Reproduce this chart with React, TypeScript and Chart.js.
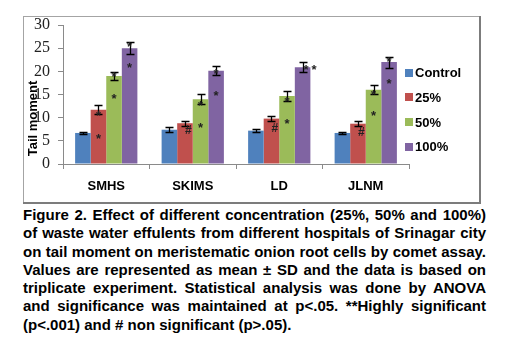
import { useEffect, useRef } from "react";
import { Chart, registerables } from "chart.js";

Chart.register(...registerables);

const categories = ["SMHS", "SKIMS", "LD", "JLNM"];
const seriesNames = ["Control", "25%", "50%", "100%"];
const controlValues = [6.7, 7.4, 7.2, 6.7];
const conc25Values = [11.7, 8.8, 9.8, 8.7];
const conc50Values = [19.0, 14.0, 14.7, 16.0];
const conc100Values = [25.0, 20.1, 20.9, 22.0];
const controlSD = [0.3, 0.5, 0.4, 0.3];
const conc25SD = [1.0, 0.5, 0.55, 0.5];
const conc50SD = [0.9, 1.1, 1.0, 0.95];
const conc100SD = [1.3, 0.95, 1.1, 1.2];
const yTicks = [0, 5, 10, 15, 20, 25, 30];
const yTitle = "Tail moment";
// [series index, category index, mark, value]
const significanceMarks: [number, number, string, number][] = [
  [1, 0, "*", 10.9], [1, 0, "*", 6.0],
  [1, 1, "#", 7.3], [1, 2, "#", 7.8], [1, 3, "#", 7.0],
  [2, 0, "*", 19.4], [2, 0, "*", 14.7],
  [2, 1, "*", 13.1], [2, 1, "*", 8.4],
  [2, 2, "*", 14.1], [2, 2, "*", 9.3],
  [2, 3, "*", 15.5], [2, 3, "*", 10.9],
  [3, 0, "*", 25.9], [3, 0, "*", 21.3],
  [3, 1, "*", 20.1], [3, 1, "*", 15.3],
  [3, 2, "**", 21.0],
  [3, 3, "*", 22.7], [3, 3, "*", 18.0],
];
const captionLines = [
  "Figure 2. Effect of different concentration (25%, 50% and 100%)",
  "of waste water effulents from different hospitals of Srinagar city",
  "on tail moment on meristematic onion root cells by comet assay.",
  "Values are represented as mean \u00b1 SD and the data is based on",
  "triplicate experiment. Statistical analysis was done by ANOVA",
  "and significance was maintained at p<.05. **Highly significant",
  "(p<.001) and # non significant (p>.05).",
];

const seriesValues = [controlValues, conc25Values, conc50Values, conc100Values];
const seriesSD = [controlSD, conc25SD, conc50SD, conc100SD];
const colors = ["#4F81BD", "#C0504D", "#9BBB59", "#8064A2"];

const SANS = '"Liberation Sans", Arial, sans-serif';
const CW = 458;
const CH = 188;

const extrasPlugin = {
  id: "extras",
  beforeDraw(chart: any) {
    const ctx = chart.ctx as CanvasRenderingContext2D;
    ctx.save();
    ctx.fillStyle = "#fff";
    ctx.fillRect(0, 0, CW, CH);
    ctx.restore();
  },
  afterDatasetsDraw(chart: any) {
    const ctx = chart.ctx as CanvasRenderingContext2D;
    const y = chart.scales.y;
    ctx.save();
    seriesSD.forEach((sds, di) => {
      const meta = chart.getDatasetMeta(di);
      meta.data.forEach((bar: any, i: number) => {
        const v = seriesValues[di][i];
        const sd = sds[i];
        const x = Math.round(bar.x) + 0.5;
        const yt = Math.round(y.getPixelForValue(v + sd)) + 0.5;
        const yb = Math.round(y.getPixelForValue(v - sd)) + 0.5;
        ctx.strokeStyle = "#000";
        ctx.lineWidth = 1.3;
        ctx.beginPath();
        ctx.moveTo(x, yt); ctx.lineTo(x, yb);
        ctx.moveTo(x - 4, yt); ctx.lineTo(x + 4, yt);
        ctx.moveTo(x - 4, yb); ctx.lineTo(x + 4, yb);
        ctx.stroke();
      });
    });
    significanceMarks.forEach(([di, ci, mark, v]) => {
      const bar: any = chart.getDatasetMeta(di).data[ci];
      const py = y.getPixelForValue(v);
      ctx.fillStyle = "#222";
      ctx.textAlign = "left";
      ctx.textBaseline = "alphabetic";
      if (mark === "#") {
        ctx.font = `bold 12px ${SANS}`;
        ctx.fillText(mark, bar.x, py + 4);
      } else if (mark === "**") {
        ctx.font = `bold 13px ${SANS}`;
        ctx.fillText("*", bar.x + 1, py + 7);
        ctx.fillText("*", bar.x + 9, py + 7);
      } else {
        ctx.font = `bold 13px ${SANS}`;
        ctx.textAlign = "center";
        ctx.fillText(mark, bar.x, py + 7);
      }
    });
    ctx.restore();
  },
  afterDraw(chart: any) {
    const ctx = chart.ctx as CanvasRenderingContext2D;
    const area = chart.chartArea;
    ctx.save();
    ctx.translate(area.left - 30, (area.top + area.bottom) / 2 + 24);
    ctx.rotate(-Math.PI / 2);
    ctx.font = `bold 13px ${SANS}`;
    ctx.fillStyle = "#000";
    ctx.textAlign = "center";
    ctx.textBaseline = "middle";
    ctx.fillText(yTitle, 0, 0);
    ctx.restore();
    ctx.save();
    chart.data.datasets.forEach((ds: any, i: number) => {
      const cy = area.top + 47.5 + i * 24.8;
      const bx = area.right - 4;
      ctx.fillStyle = ds.backgroundColor;
      ctx.fillRect(bx, Math.round(cy - 4), 8, 8);
      ctx.fillStyle = "#000";
      ctx.font = `bold 13px ${SANS}`;
      ctx.textAlign = "left";
      ctx.textBaseline = "middle";
      ctx.fillText(ds.label, bx + 10, cy + 1);
    });
    ctx.restore();
    // outer frame of the figure box
    ctx.save();
    ctx.fillStyle = "#a4a4a4";
    ctx.fillRect(0, 0, CW, 1);
    ctx.fillRect(0, 0, 1, CH);
    ctx.fillStyle = "#7c7c7c";
    ctx.fillRect(CW - 2, 0, 2, CH);
    ctx.fillRect(0, CH - 2, CW, 2);
    ctx.restore();
  },
};

function ChartCanvas() {
  const ref = useRef<HTMLCanvasElement>(null);
  useEffect(() => {
    if (!ref.current) return;
    const chart = new Chart(ref.current, {
      type: "bar",
      data: {
        labels: categories,
        datasets: seriesValues.map((vals, i) => ({
          label: seriesNames[i],
          data: vals,
          backgroundColor: colors[i],
          borderWidth: 0,
          categoryPercentage: 0.72,
          barPercentage: 1,
        })),
      },
      options: {
        animation: false,
        responsive: false,
        maintainAspectRatio: false,
        devicePixelRatio: 1,
        layout: { padding: { left: 1, right: 72, top: 9, bottom: 0 } },
        plugins: {
          legend: { display: false },
          tooltip: { enabled: false },
        },
        scales: {
          x: {
            offset: true,
            grid: { offset: true, drawOnChartArea: false, drawTicks: true, tickLength: 5, color: "#8a8a8a" },
            border: { display: true, color: "#8a8a8a" },
            ticks: { color: "#000", padding: 10, font: { family: SANS, size: 13, weight: "bold" } },
            afterFit: (s: any) => {
              s.height = 40;
              s.paddingLeft = 0; s.paddingRight = 0; s.paddingTop = 0; s.paddingBottom = 0;
            },
          },
          y: {
            min: 0,
            max: 30,
            afterBuildTicks: (s: any) => {
              s.ticks = yTicks.map((v) => ({ value: v }));
            },
            grid: { drawOnChartArea: false, drawTicks: true, tickLength: 5, color: "#8a8a8a" },
            border: { display: true, color: "#8a8a8a" },
            ticks: {
              color: "#222",
              padding: 8,
              font: { family: '"Liberation Serif", "Times New Roman", serif', size: 16, lineHeight: 1 },
            },
            afterFit: (s: any) => {
              s.width = 39;
              s.paddingTop = 0; s.paddingBottom = 0; s.paddingLeft = 0; s.paddingRight = 0;
            },
          },
        },
      },
      plugins: [extrasPlugin],
    });
    return () => chart.destroy();
  }, []);
  return <canvas ref={ref} width={CW} height={CH} style={{ width: CW, height: CH, display: "block" }} />;
}

export default function App() {
  return (
    <div style={{ position: "fixed", left: 0, top: 0, width: 512, height: 343, background: "#fff", overflow: "hidden" }}>
      <div style={{ position: "absolute", left: 23, top: 16, width: CW, height: CH }}>
        <ChartCanvas />
      </div>
      <div
        style={{
          position: "absolute",
          left: 23,
          top: 206,
          width: 463,
          fontFamily: SANS,
          fontWeight: "bold",
          fontSize: 15,
          color: "#000",
        }}
      >
        {captionLines.map((line, i) => (
          <div
            key={i}
            style={{
              height: 18.3,
              lineHeight: "18.3px",
              textAlign: i === captionLines.length - 1 ? "left" : "justify",
              textAlignLast: i === captionLines.length - 1 ? "left" : "justify",
              whiteSpace: "nowrap",
            }}
          >
            {line}
          </div>
        ))}
      </div>
    </div>
  );
}
